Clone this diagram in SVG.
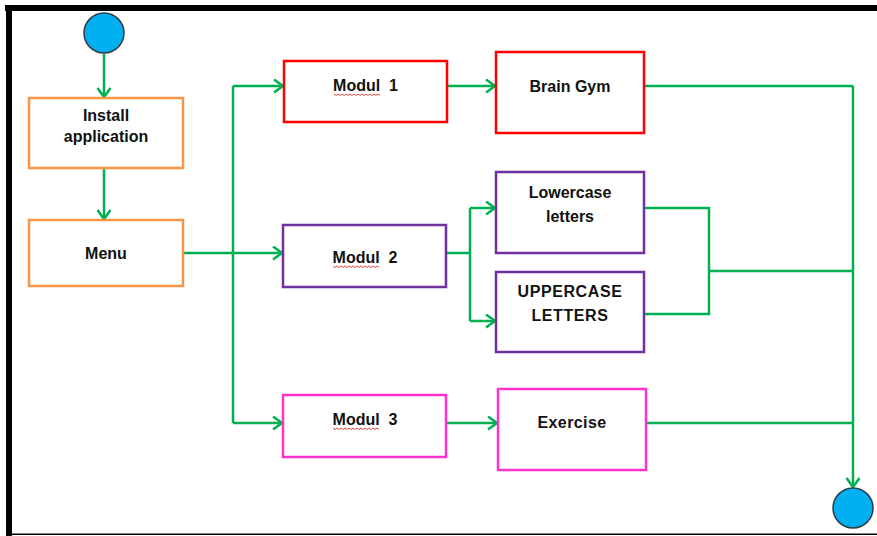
<svg xmlns="http://www.w3.org/2000/svg" width="877" height="536" viewBox="0 0 877 536">
<style>
.box{fill:#fff;stroke-width:2.5}
.orange{stroke:#F79646}
.red{stroke:#FF0000}
.purple{stroke:#7030A0}
.pink{stroke:#FF33CC}
.t{font-family:"Liberation Sans",Arial,sans-serif;font-weight:bold;font-size:16px;fill:#111;text-anchor:middle}
.c{fill:none;stroke:#00B050;stroke-width:2.5}
.a{marker-end:url(#arr)}
.sq{fill:none;stroke:#E03030;stroke-width:0.9}
.dot{fill:#00B0F0;stroke:#2F3B45;stroke-width:1.5}
</style>
<defs>
<marker id="arr" markerUnits="userSpaceOnUse" markerWidth="14" markerHeight="16" refX="10" refY="7" orient="auto" viewBox="0 0 14 16">
<path d="M1,0.5 L10,7 L1,13.5" fill="none" stroke="#00B050" stroke-width="2.5"/>
</marker>
</defs>
<rect x="0" y="0" width="877" height="536" fill="#fff"/>
<rect x="5" y="5" width="872" height="6" fill="#000"/>
<rect x="6" y="5" width="6" height="531" fill="#000"/>
<rect x="6" y="533.5" width="871" height="1.5" fill="#000"/>

<g id="connectors">
<path class="c a" d="M104,54 V97"/>
<path class="c a" d="M104,168 V219"/>
<path class="c a" d="M183,253 H282"/>
<path class="c" d="M233,86 V423"/>
<path class="c a" d="M233,86 H283"/>
<path class="c a" d="M233,423 H282"/>
<path class="c a" d="M447,86 H495"/>
<path class="c" d="M446,253 H470"/>
<path class="c" d="M470,208 V321"/>
<path class="c a" d="M470,208 H495"/>
<path class="c a" d="M470,321 H495"/>
<path class="c a" d="M446,423 H497"/>
<path class="c" d="M644,86 H853"/>
<path class="c" d="M644,208 H709 V314 H644"/>
<path class="c" d="M709,271 H853"/>
<path class="c" d="M646,423 H853"/>
<path class="c a" d="M853,86 V487"/>
</g>

<g id="start"><circle class="dot" cx="104" cy="33" r="20"/></g>
<g id="end"><circle class="dot" cx="853" cy="508" r="20"/></g>

<g id="install">
<rect class="box orange" x="29" y="98" width="154" height="70"/>
<text class="t" x="106" y="121">Install</text>
<text class="t" x="106" y="142">application</text>
</g>
<g id="menu">
<rect class="box orange" x="29" y="220" width="154" height="66"/>
<text class="t" x="106" y="259">Menu</text>
</g>

<g id="modul1">
<rect class="box red" x="284" y="61" width="163" height="61"/>
<text class="t" x="365.5" y="91" xml:space="preserve">Modul  1</text>
<path class="sq" d="M334,94 l2,1.5 l2,-1.5 l2,1.5 l2,-1.5 l2,1.5 l2,-1.5 l2,1.5 l2,-1.5 l2,1.5 l2,-1.5 l2,1.5 l2,-1.5 l2,1.5 l2,-1.5 l2,1.5 l2,-1.5 l2,1.5 l2,-1.5 l2,1.5 l2,-1.5 l2,1.5 l2,-1.5 l2,1.5"/>
</g>
<g id="braingym">
<rect class="box red" x="496" y="52" width="148" height="81"/>
<text class="t" x="570" y="92">Brain Gym</text>
</g>

<g id="modul2">
<rect class="box purple" x="283" y="225" width="163" height="62"/>
<text class="t" x="365" y="263" xml:space="preserve">Modul  2</text>
<path class="sq" d="M333,266 l2,1.5 l2,-1.5 l2,1.5 l2,-1.5 l2,1.5 l2,-1.5 l2,1.5 l2,-1.5 l2,1.5 l2,-1.5 l2,1.5 l2,-1.5 l2,1.5 l2,-1.5 l2,1.5 l2,-1.5 l2,1.5 l2,-1.5 l2,1.5 l2,-1.5 l2,1.5 l2,-1.5 l2,1.5"/>
</g>
<g id="lowercase">
<rect class="box purple" x="496" y="172" width="148" height="81"/>
<text class="t" x="570" y="198">Lowercase</text>
<text class="t" x="570" y="222">letters</text>
</g>
<g id="uppercase">
<rect class="box purple" x="496" y="272" width="148" height="80"/>
<text class="t" x="570" y="297" letter-spacing="0.6">UPPERCASE</text>
<text class="t" x="570" y="321" letter-spacing="0.6">LETTERS</text>
</g>

<g id="modul3">
<rect class="box pink" x="283" y="395" width="163" height="62"/>
<text class="t" x="365" y="425" xml:space="preserve">Modul  3</text>
<path class="sq" d="M333,428 l2,1.5 l2,-1.5 l2,1.5 l2,-1.5 l2,1.5 l2,-1.5 l2,1.5 l2,-1.5 l2,1.5 l2,-1.5 l2,1.5 l2,-1.5 l2,1.5 l2,-1.5 l2,1.5 l2,-1.5 l2,1.5 l2,-1.5 l2,1.5 l2,-1.5 l2,1.5 l2,-1.5 l2,1.5"/>
</g>
<g id="exercise">
<rect class="box pink" x="498" y="389" width="148" height="81"/>
<text class="t" x="572" y="428" letter-spacing="0.4">Exercise</text>
</g>
</svg>
